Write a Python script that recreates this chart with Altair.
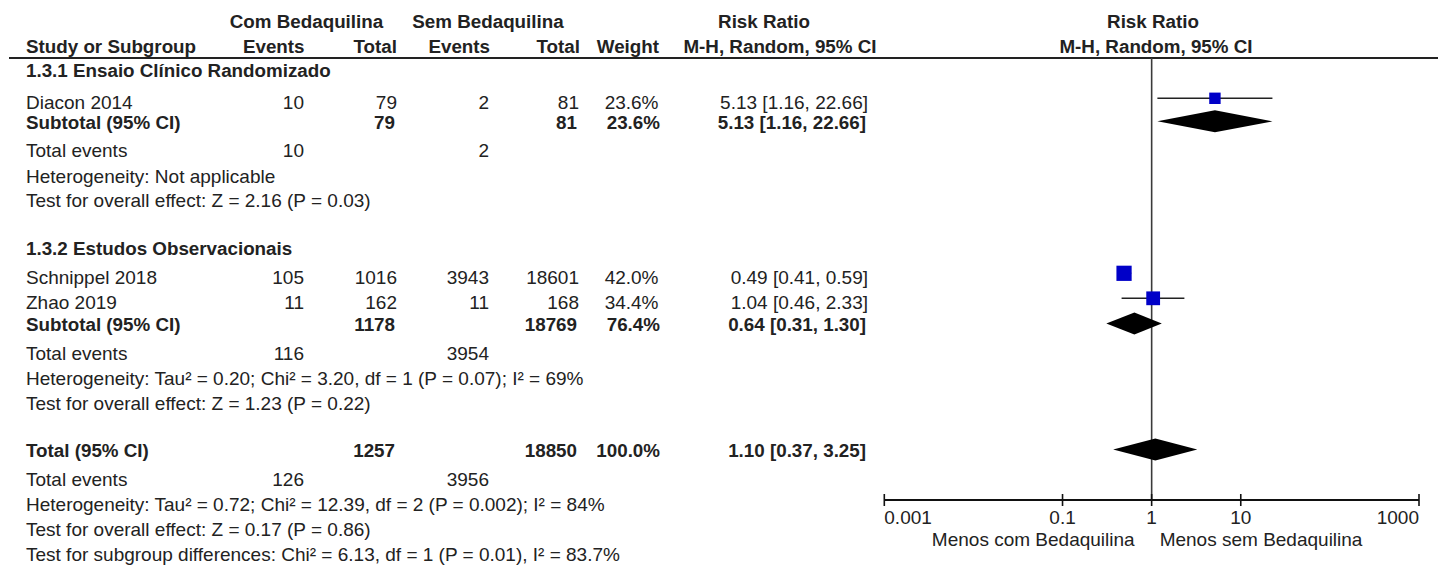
import altair as alt
import pandas as pd

# ---- study-level data -------------------------------------------------------
subgroups = ["1.3.1 Ensaio Clínico Randomizado", "1.3.2 Estudos Observacionais"]
studies = ["Diacon 2014", "Schnippel 2018", "Zhao 2019"]
study_group = [0, 1, 1]
com_events = [10, 105, 11]
com_total = [79, 1016, 162]
sem_events = [2, 3943, 11]
sem_total = [81, 18601, 168]
weight = [23.6, 42.0, 34.4]
rr = [5.13, 0.49, 1.04]
rr_lo = [1.16, 0.41, 0.46]
rr_hi = [22.66, 0.59, 2.33]

# ---- pooled estimates: subgroup 1, subgroup 2, overall ----------------------
pooled_label = ["Subtotal (95% CI)", "Subtotal (95% CI)", "Total (95% CI)"]
pooled_com_total = [79, 1178, 1257]
pooled_sem_total = [81, 18769, 18850]
pooled_weight = [23.6, 76.4, 100.0]
pooled_rr = [5.13, 0.64, 1.10]
pooled_lo = [1.16, 0.31, 0.37]
pooled_hi = [22.66, 1.30, 3.25]
events_com = [10, 116, 126]
events_sem = [2, 3954, 3956]
heterogeneity = [
    "Heterogeneity: Not applicable",
    "Heterogeneity: Tau² = 0.20; Chi² = 3.20, df = 1 (P = 0.07); I² = 69%",
    "Heterogeneity: Tau² = 0.72; Chi² = 12.39, df = 2 (P = 0.002); I² = 84%",
]
overall_effect = [
    "Test for overall effect: Z = 2.16 (P = 0.03)",
    "Test for overall effect: Z = 1.23 (P = 0.22)",
    "Test for overall effect: Z = 0.17 (P = 0.86)",
]
subgroup_test = "Test for subgroup differences: Chi² = 6.13, df = 1 (P = 0.01), I² = 83.7%"

axis_ticks = [0.001, 0.1, 1, 10, 1000]
axis_labels = ["0.001", "0.1", "1", "10", "1000"]
favours = ["Menos com Bedaquilina", "Menos sem Bedaquilina"]

# ---- layout -----------------------------------------------------------------
W, H = 1442, 565
FONT = "Liberation Sans"
FS = 19          # regular text
FS_BOLD = 18.8   # bold text
INK = "#222222"
BLUE = "#0000C8"
# vertical centre of each table line, top to bottom
ROW_Y = [71.3, 103.3, 122.8, 151.3, 176.7, 201, 249.3, 278.3, 303.3, 325,
         353.7, 379.3, 404.3, 451, 479.7, 505, 530, 555]
HEAD_Y = [21.7, 46.7]
RULE_Y = 58
AXIS_Y = 500
STUDY_SHIFT = -5      # study markers sit slightly above the text line
DIAMOND_SHIFT = -1.5
DIAMOND_HALF = 11
# column anchors (x in px)
COL = dict(label=26, ce=304, ct=397, se=489, st=579, w=658.5, ci=868)
BOLD_DX = dict(label=0, ce=0, ct=-2, se=0, st=-2, w=1.5, ci=-2)

yscale = alt.Scale(domain=[0, H], range=[0, H], nice=False, zero=False)
xscale = alt.Scale(type="log", domain=[0.001, 1000], range=[884.3, 1419], nice=False)


def fmt_ci(e, lo, hi):
    return f"{e:.2f} [{lo:.2f}, {hi:.2f}]"


# ---- assemble table lines ---------------------------------------------------
lines = []


def add(label, bold=False, ce="", ct="", se="", st="", w="", ci="", kind="note"):
    lines.append(dict(label=label, bold=bold, ce=str(ce), ct=str(ct), se=str(se),
                      st=str(st), w=w, ci=ci, kind=kind))


for g in range(2):
    add(subgroups[g], bold=True)
    for i, name in enumerate(studies):
        if study_group[i] == g:
            add(name, ce=com_events[i], ct=com_total[i], se=sem_events[i], st=sem_total[i],
                w=f"{weight[i]:.1f}%", ci=fmt_ci(rr[i], rr_lo[i], rr_hi[i]), kind=f"study{i}")
    add(pooled_label[g], bold=True, ct=pooled_com_total[g], st=pooled_sem_total[g],
        w=f"{pooled_weight[g]:.1f}%", ci=fmt_ci(pooled_rr[g], pooled_lo[g], pooled_hi[g]),
        kind=f"pooled{g}")
    add("Total events", ce=events_com[g], se=events_sem[g])
    add(heterogeneity[g])
    add(overall_effect[g])
add(pooled_label[2], bold=True, ct=pooled_com_total[2], st=pooled_sem_total[2],
    w=f"{pooled_weight[2]:.1f}%", ci=fmt_ci(pooled_rr[2], pooled_lo[2], pooled_hi[2]),
    kind="pooled2")
add("Total events", ce=events_com[2], se=events_sem[2])
add(heterogeneity[2])
add(overall_effect[2])
add(subgroup_test)

table = pd.DataFrame(lines)
table["y"] = ROW_Y[: len(table)]
row_of = dict(zip(table["kind"], table["y"]))

# ---- forest plot data -------------------------------------------------------
study_df = pd.DataFrame({
    "study": studies, "rr": rr, "lo": rr_lo, "hi": rr_hi, "weight": weight,
    "y": [row_of[f"study{i}"] + STUDY_SHIFT for i in range(len(studies))],
})

diamond_pts = []
for g in range(3):
    yc = row_of[f"pooled{g}"] + DIAMOND_SHIFT
    for xv, half in ((pooled_lo[g], 0), (pooled_rr[g], DIAMOND_HALF), (pooled_hi[g], 0)):
        diamond_pts.append(dict(g=g, x=xv, top=yc - half, bot=yc + half))
diamond_df = pd.DataFrame(diamond_pts)

one = pd.DataFrame({"one": [1]})


def text_layer(df, field, x, align, bold=False, dx=0):
    return alt.Chart(df).mark_text(
        align=align, baseline="middle", font=FONT, fontSize=FS_BOLD if bold else FS,
        fontWeight="bold" if bold else "normal", color=INK, dx=dx,
    ).encode(
        x=alt.value(x),
        y=alt.Y("y:Q", scale=yscale, axis=None),
        text=alt.Text(f"{field}:N"),
    )


layers = []

# header rule across the whole table
layers.append(alt.Chart(one).mark_rule(color="#222", strokeWidth=2).encode(
    x=alt.value(9), x2=alt.value(1438), y=alt.value(RULE_Y)))

# line of no effect
layers.append(alt.Chart(one).mark_rule(color="#3a3a3a", strokeWidth=1.6).encode(
    x=alt.X("one:Q", scale=xscale, axis=None), y=alt.value(RULE_Y), y2=alt.value(AXIS_Y)))

# x axis line and ticks
axis_df = pd.DataFrame({"lo": [axis_ticks[0]], "hi": [axis_ticks[-1]]})
layers.append(alt.Chart(axis_df).mark_rule(color="#111", strokeWidth=2).encode(
    x=alt.X("lo:Q", scale=xscale, axis=None), x2="hi:Q", y=alt.value(AXIS_Y)))
tick_df = pd.DataFrame({"t": axis_ticks, "label": axis_labels})
layers.append(alt.Chart(tick_df).mark_rule(color="#111", strokeWidth=1.6).encode(
    x=alt.X("t:Q", scale=xscale, axis=None), y=alt.value(AXIS_Y - 6), y2=alt.value(AXIS_Y + 6)))
for sel, align in ((tick_df.iloc[[0]], "left"), (tick_df.iloc[1:-1], "center"),
                   (tick_df.iloc[[-1]], "right")):
    layers.append(alt.Chart(sel).mark_text(
        align=align, baseline="middle", font=FONT, fontSize=FS, color=INK,
    ).encode(x=alt.X("t:Q", scale=xscale, axis=None), y=alt.value(518), text="label:N"))

fav_df = pd.DataFrame({"one": [1], "left": [favours[0]], "right": [favours[1]]})
layers.append(alt.Chart(fav_df).mark_text(
    align="right", baseline="middle", font=FONT, fontSize=FS, color=INK, dx=-17,
).encode(x=alt.X("one:Q", scale=xscale, axis=None), y=alt.value(539.5), text="left:N"))
layers.append(alt.Chart(fav_df).mark_text(
    align="left", baseline="middle", font=FONT, fontSize=FS, color=INK, dx=8,
).encode(x=alt.X("one:Q", scale=xscale, axis=None), y=alt.value(539.5), text="right:N"))

# confidence intervals, weight squares and pooled diamonds
layers.append(alt.Chart(study_df).mark_rule(color="#222", strokeWidth=1.6).encode(
    x=alt.X("lo:Q", scale=xscale, axis=None), x2="hi:Q",
    y=alt.Y("y:Q", scale=yscale, axis=None)))
layers.append(alt.Chart(study_df).mark_square(filled=True, color=BLUE, opacity=1).encode(
    x=alt.X("rr:Q", scale=xscale, axis=None),
    y=alt.Y("y:Q", scale=yscale, axis=None),
    size=alt.Size("weight:Q", scale=alt.Scale(domain=[0, 42], range=[0, 232]), legend=None)))
layers.append(alt.Chart(diamond_df).mark_area(color="black", opacity=1, interpolate="linear").encode(
    x=alt.X("x:Q", scale=xscale, axis=None),
    y=alt.Y("top:Q", scale=yscale, axis=None), y2="bot:Q",
    detail="g:N"))

# column headers
head_rows = [
    (0, "Com Bedaquilina", 306.5, "center"),
    (0, "Sem Bedaquilina", 488, "center"),
    (0, "Risk Ratio", 764, "center"),
    (0, "Risk Ratio", 1153, "center"),
    (1, "Study or Subgroup", 26, "left"),
    (1, "Events", 304.5, "right"),
    (1, "Total", 397, "right"),
    (1, "Events", 490, "right"),
    (1, "Total", 580, "right"),
    (1, "Weight", 659, "right"),
    (1, "M-H, Random, 95% CI", 780, "center"),
    (1, "M-H, Random, 95% CI", 1156, "center"),
]
for r, label, x, align in head_rows:
    hdf = pd.DataFrame({"y": [HEAD_Y[r]], "h": [label]})
    layers.append(text_layer(hdf, "h", x, align, bold=True))

# table body
for col, x in COL.items():
    align = "left" if col == "label" else "right"
    for bold in (False, True):
        sub = table[(table["bold"] == bold) & (table[col] != "")]
        if len(sub):
            layers.append(text_layer(sub[["y", col]], col, x, align, bold=bold,
                                     dx=BOLD_DX[col] if bold else 0))

chart = alt.layer(*layers).properties(
    width=W, height=H, padding=0,
    autosize=alt.AutoSizeParams(type="none"),
    background="white",
).configure_view(stroke=None)

chart.save("out.html", embed_options={"renderer": "svg", "actions": False})
